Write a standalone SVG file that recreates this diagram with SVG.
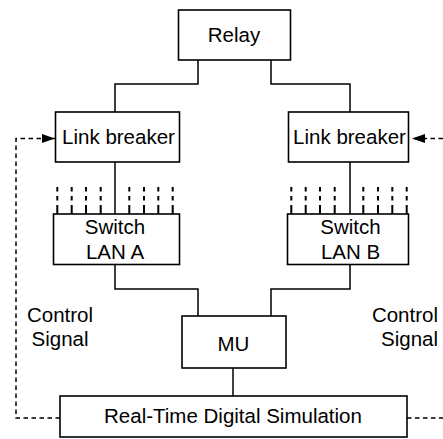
<svg xmlns="http://www.w3.org/2000/svg" width="443" height="439" viewBox="0 0 443 439">
<defs>
<style>
.box{fill:#fff;stroke:#000;stroke-width:1.6}
.ln{fill:none;stroke:#000;stroke-width:1.5}
.dash{fill:none;stroke:#000;stroke-width:1.5;stroke-dasharray:4.5 3.5}
.tick{fill:none;stroke:#000;stroke-width:2;stroke-dasharray:4.5 4.5 4.5 4.5 10}
text{font-family:"Liberation Sans",Arial,sans-serif;font-size:20.5px;fill:#000}
.c{text-anchor:middle}
</style>
<marker id="arr" markerUnits="userSpaceOnUse" markerWidth="13" markerHeight="9" refX="13" refY="4.5" orient="auto">
<path d="M0,0 L13,4.5 L0,9 z" fill="#000"/>
</marker>
</defs>
<g id="connectors">
<path class="ln" d="M198,60 V84 H115 V112"/>
<path class="ln" d="M271,60 V84 H350 V112"/>
<path class="ln" d="M115,162 V214"/>
<path class="ln" d="M350,162 V214"/>
<path class="ln" d="M115,264 V289 H198 V316"/>
<path class="ln" d="M350,264 V289 H271 V316"/>
<path class="ln" d="M233,368 V396"/>
<path class="dash" d="M60,418 H16 V138.5 H55" marker-end="url(#arr)"/>
<path class="dash" d="M407,418 H443"/>
<path class="dash" d="M443,138.5 H412" marker-end="url(#arr)"/>
<g id="ticks-a">
<line class="tick" x1="57.3" y1="187" x2="57.3" y2="214"/>
<line class="tick" x1="71.7" y1="187" x2="71.7" y2="214"/>
<line class="tick" x1="86" y1="187" x2="86" y2="214"/>
<line class="tick" x1="100.7" y1="187" x2="100.7" y2="214"/>
<line class="tick" x1="129.3" y1="187" x2="129.3" y2="214"/>
<line class="tick" x1="144" y1="187" x2="144" y2="214"/>
<line class="tick" x1="158.3" y1="187" x2="158.3" y2="214"/>
<line class="tick" x1="172.7" y1="187" x2="172.7" y2="214"/>
</g>
<g id="ticks-b">
<line class="tick" x1="291.3" y1="187" x2="291.3" y2="214"/>
<line class="tick" x1="305.7" y1="187" x2="305.7" y2="214"/>
<line class="tick" x1="320" y1="187" x2="320" y2="214"/>
<line class="tick" x1="334.7" y1="187" x2="334.7" y2="214"/>
<line class="tick" x1="363.3" y1="187" x2="363.3" y2="214"/>
<line class="tick" x1="378" y1="187" x2="378" y2="214"/>
<line class="tick" x1="392.3" y1="187" x2="392.3" y2="214"/>
<line class="tick" x1="406.7" y1="187" x2="406.7" y2="214"/>
</g>
</g>
<g id="relay">
<rect class="box" x="178.5" y="10" width="112" height="50"/>
<text class="c" x="234" y="42">Relay</text>
</g>
<g id="link-breaker-a">
<rect class="box" x="55.5" y="112" width="124" height="50"/>
<text class="c" x="118.5" y="143.5">Link breaker</text>
</g>
<g id="link-breaker-b">
<rect class="box" x="288.5" y="112" width="120" height="50"/>
<text class="c" x="349.5" y="143.5">Link breaker</text>
</g>
<g id="switch-a">
<rect class="box" x="53.5" y="214" width="126" height="50.5"/>
<text class="c" x="115" y="233.5">Switch</text>
<text class="c" x="115" y="258.5">LAN A</text>
</g>
<g id="switch-b">
<rect class="box" x="287.5" y="214" width="121" height="50.5"/>
<text class="c" x="350.5" y="233.5">Switch</text>
<text class="c" x="350.5" y="258.5">LAN B</text>
</g>
<g id="mu">
<rect class="box" x="182" y="316" width="104" height="52"/>
<text class="c" x="233.5" y="351">MU</text>
</g>
<g id="rtds">
<rect class="box" x="60" y="396" width="347" height="41"/>
<text class="c" x="233" y="423">Real-Time Digital Simulation</text>
</g>
<g id="label-control-left">
<text class="c" x="60" y="322">Control</text>
<text class="c" x="60" y="346">Signal</text>
</g>
<g id="label-control-right">
<text x="438" y="322" text-anchor="end">Control</text>
<text x="438" y="346" text-anchor="end">Signal</text>
</g>
</svg>
